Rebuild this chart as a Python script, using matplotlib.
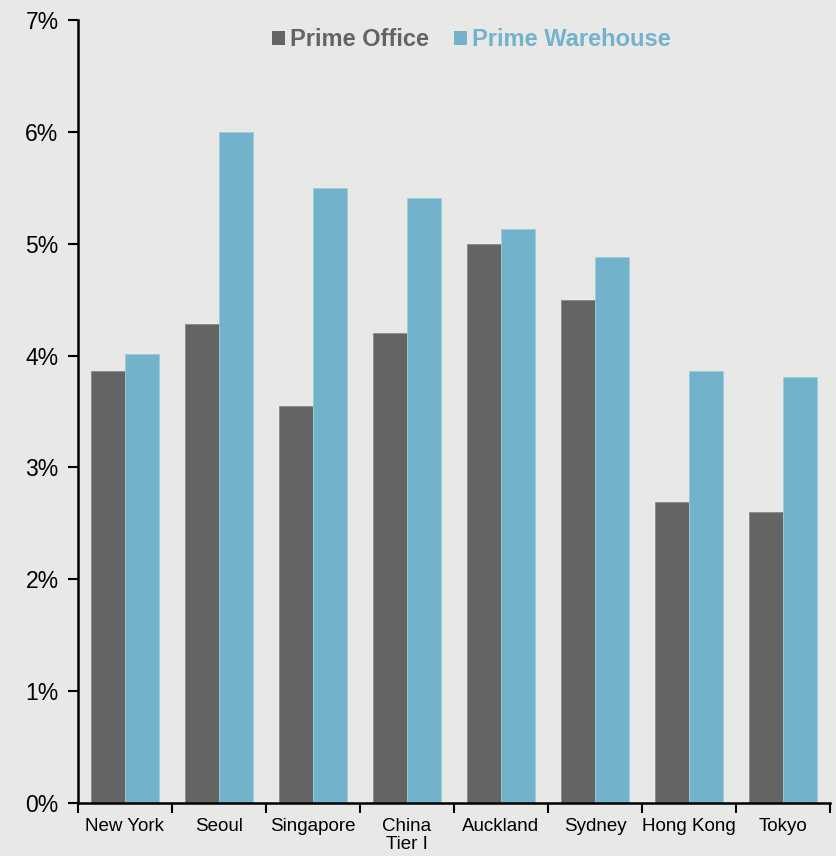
import matplotlib
matplotlib.use("Agg")
import matplotlib.pyplot as plt
from matplotlib.patches import Patch
from matplotlib.ticker import FixedLocator, PercentFormatter
import numpy as np

plt.rcParams['font.family'] = ['Liberation Sans', 'DejaVu Sans']

cities = ["New York", "Seoul", "Singapore", "China\nTier I", "Auckland",
          "Sydney", "Hong Kong", "Tokyo"]
prime_office = [3.86, 4.28, 3.55, 4.20, 5.00, 4.50, 2.69, 2.60]
prime_warehouse = [4.01, 6.00, 5.50, 5.41, 5.13, 4.88, 3.86, 3.81]
series_names = ["Prime Office", "Prime Warehouse"]

office_color = "#646464"
warehouse_color = "#72B2CB"
bg = "#E8E8E7"

fig = plt.figure(figsize=(8.36, 8.56), dpi=100, facecolor=bg)
ax = fig.add_axes([0.0933, 0.0619, 0.8995, 0.9147], facecolor=bg)

x = np.arange(len(cities))
w = 0.362
ax.bar(x - w / 2, prime_office, width=w, color=office_color,
       edgecolor="#8a8a8a", linewidth=0.6)
ax.bar(x + w / 2, prime_warehouse, width=w, color=warehouse_color,
       edgecolor="#9fcbdc", linewidth=0.6)

ax.set_xlim(-0.5, len(cities) - 0.5)
ax.set_ylim(0, 7)
ax.yaxis.set_major_locator(FixedLocator(np.arange(0, 8)))
ax.yaxis.set_major_formatter(PercentFormatter(decimals=0))
ax.tick_params(axis='y', direction='out', length=7, width=1.5,
               labelsize=16.5, pad=7, colors='black')

# boundary ticks between categories, labels centred in each slot
ax.xaxis.set_major_locator(FixedLocator(np.arange(len(cities) + 1) - 0.5))
ax.xaxis.set_major_formatter(plt.NullFormatter())
ax.xaxis.set_minor_locator(FixedLocator(x))
ax.set_xticklabels(cities, minor=True)
ax.tick_params(axis='x', which='major', direction='out', length=7, width=1.5)
ax.tick_params(axis='x', which='minor', length=0, labelsize=13.5, pad=11)
for lbl in ax.get_xticklabels(minor=True):
    lbl.set_linespacing(1.05)

for side in ("top", "right"):
    ax.spines[side].set_visible(False)
for side in ("left", "bottom"):
    ax.spines[side].set_linewidth(1.8)
    ax.spines[side].set_color("black")

handles = [Patch(facecolor=office_color, edgecolor='none'),
           Patch(facecolor=warehouse_color, edgecolor='none')]
leg = ax.legend(handles, series_names, loc='center',
                bbox_to_anchor=(0.523, 0.9745), ncol=2, frameon=False,
                handlelength=0.55, handleheight=0.55, handletextpad=0.2,
                columnspacing=1.05, borderpad=0,
                prop={'size': 17, 'weight': 'bold'})
for txt, col in zip(leg.get_texts(), [office_color, warehouse_color]):
    txt.set_color(col)

fig.savefig("out.png", dpi=100, facecolor=bg)
